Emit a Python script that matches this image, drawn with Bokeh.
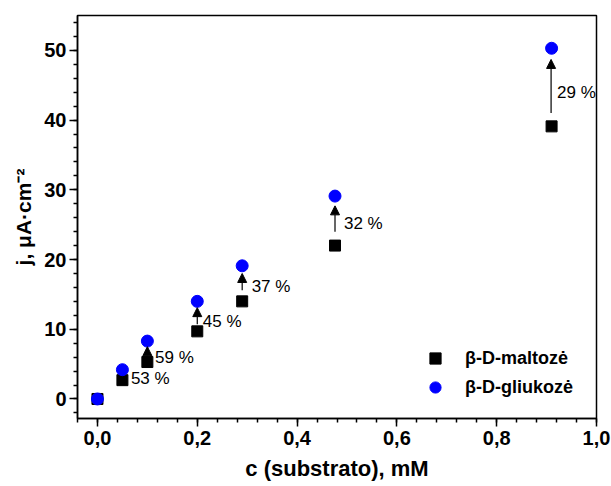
from bokeh.plotting import figure
from bokeh.models import (Range1d, FixedTicker, CustomJSTickFormatter, ColumnDataSource,
                          Arrow, NormalHead, LabelSet, Legend, LegendItem)
from bokeh.core.properties import value
from bokeh.embed import file_html
from bokeh.resources import INLINE

# ---- data ----
conc = [0.0, 0.05, 0.1, 0.2, 0.29, 0.476, 0.91]
maltose = [0.0, 2.7, 5.3, 9.7, 14.0, 22.0, 39.1]
glucose = [0.0, 4.2, 8.3, 14.0, 19.1, 29.1, 50.3]

arrow_x = [0.1, 0.2, 0.29, 0.476, 0.909]
arrow_tail = [5.9, 10.7, 15.6, 24.0, 41.0]
arrow_tip = [7.5, 13.1, 18.0, 27.7, 48.7]

pct_text = ["53 %", "59 %", "45 %", "37 %", "32 %", "29 %"]
pct_x = [0.067, 0.1155, 0.211, 0.309, 0.494, 0.921]
pct_y = [2.97, 6.0, 11.05, 16.1, 25.2, 44.0]

x_major = [0.0, 0.2, 0.4, 0.6, 0.8, 1.0]
x_minor = [round(-0.04 + 0.04 * i, 2) for i in range(27)]
y_major = [0, 10, 20, 30, 40, 50]
y_minor = [-2 + 2 * i for i in range(29)]

x_title = "c (substrato), mM"
y_title = "j, μA·cm⁻²"

FONT = "Liberation Sans"

p = figure(width=611, height=486, output_backend="svg", toolbar_location=None,
           x_range=Range1d(-0.04, 1.0), y_range=Range1d(-2.8, 55.0),
           min_border_left=77, min_border_right=15, min_border_top=15, min_border_bottom=68)

p.xgrid.visible = False
p.ygrid.visible = False
p.outline_line_color = "black"
p.outline_line_width = 1.5
p.background_fill_color = "white"
p.border_fill_color = "white"

for ax in (p.xaxis[0], p.yaxis[0]):
    ax.axis_line_width = 1.5
    ax.major_tick_line_width = 1.5
    ax.minor_tick_line_width = 1.5
    ax.major_tick_in = 0
    ax.major_tick_out = 8
    ax.minor_tick_in = 0
    ax.minor_tick_out = 4
    ax.major_label_text_font = FONT
    ax.major_label_text_font_style = "bold"
    ax.major_label_text_font_size = "20px"
    ax.major_label_text_color = "black"
    ax.axis_label_text_font = FONT
    ax.axis_label_text_font_style = "bold"
    ax.axis_label_text_color = "black"

p.xaxis.axis_label_text_font_size = "22px"
p.yaxis.axis_label_text_font_size = "21px"
p.xaxis.ticker = FixedTicker(ticks=x_major, minor_ticks=x_minor)
p.yaxis.ticker = FixedTicker(ticks=y_major, minor_ticks=y_minor)
p.xaxis.formatter = CustomJSTickFormatter(code="return tick.toFixed(1).replace('.', ',');")
p.xaxis.axis_label = x_title
p.yaxis.axis_label = y_title
p.xaxis.major_label_standoff = 4
p.xaxis.axis_label_standoff = 8
p.yaxis.major_label_standoff = 3
p.yaxis.axis_label_standoff = 6

src = ColumnDataSource(dict(x=conc, m=maltose, g=glucose))
r_m = p.scatter("x", "m", source=src, marker="square", size=11,
                fill_color="black", line_color="black")
r_g = p.scatter("x", "g", source=src, marker="circle", size=12,
                fill_color="#0000FF", line_color="#0000FF")

asrc = ColumnDataSource(dict(x=arrow_x, y0=arrow_tail, y1=arrow_tip))
p.add_layout(Arrow(end=NormalHead(size=9, fill_color="black", line_color="black", line_width=1),
                   x_start="x", y_start="y0", x_end="x", y_end="y1",
                   line_color="black", line_width=1.2, source=asrc))

lsrc = ColumnDataSource(dict(x=pct_x, y=pct_y, t=pct_text))
p.add_layout(LabelSet(x="x", y="y", text="t", source=lsrc,
                      text_font=value(FONT), text_font_size="17px", text_color="black",
                      text_baseline="middle", text_align="left"))

legend = Legend(items=[LegendItem(label="β-D-maltozė", renderers=[r_m]),
                       LegendItem(label="β-D-gliukozė", renderers=[r_g])],
                location=(344, 17), orientation="vertical",
                label_text_font=FONT, label_text_font_style="bold",
                label_text_font_size="18px", label_text_color="black",
                glyph_width=28, glyph_height=28, label_height=20, spacing=1,
                label_standoff=16, padding=0, margin=0,
                border_line_color=None, background_fill_alpha=0)
p.add_layout(legend, "center")

open("out.html", "w").write(file_html(p, INLINE))
